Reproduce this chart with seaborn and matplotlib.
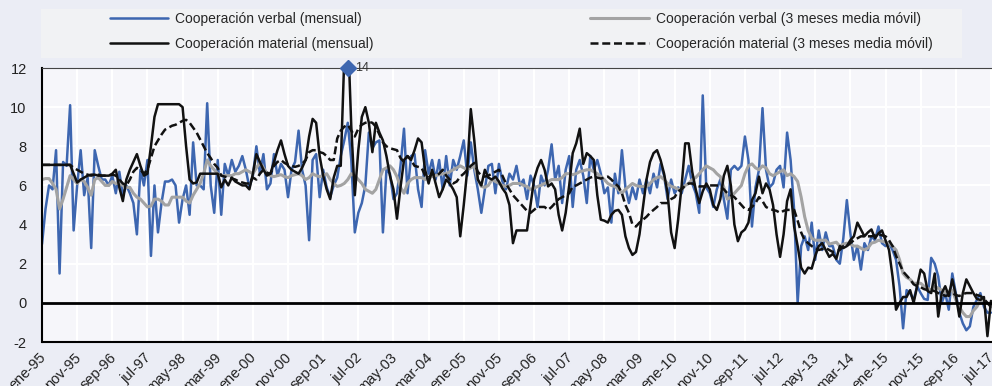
import numpy as np
import pandas as pd
import matplotlib.pyplot as plt
import seaborn as sns
from matplotlib.patches import Rectangle
from matplotlib.transforms import ScaledTranslation

# Datos mensuales, ene-1995 .. jul-2017
verbal = [
    3.0, 4.8, 6.0, 5.8, 7.8, 1.5, 7.2, 7.0, 10.1, 3.7, 6.0, 7.8,
    5.5, 6.4, 2.8, 7.8, 7.0, 6.3, 6.3, 6.0, 6.5, 5.6, 6.7, 5.5,
    6.0, 5.6, 5.1, 3.5, 6.8, 6.0, 7.3, 2.4, 6.0, 3.6, 5.1, 6.2,
    6.2, 6.3, 6.0, 4.1, 5.3, 6.0, 4.5, 8.2, 6.0, 6.0, 5.8, 10.2,
    6.0, 4.6, 7.3, 4.5, 7.1, 6.5, 7.3, 6.7, 7.0, 7.5, 6.8, 5.9,
    6.5, 8.0, 6.6, 7.6, 5.8, 6.1, 7.6, 6.5, 7.1, 6.8, 5.4, 6.8,
    7.2, 8.8, 6.8, 6.0, 3.2, 7.3, 7.6, 5.4, 6.8, 5.9, 5.4, 6.0,
    6.4, 7.5, 8.3, 9.2, 7.3, 3.6, 4.6, 5.1, 6.0, 8.7, 7.9, 8.2,
    8.3, 3.6, 6.8, 6.6, 5.3, 5.6, 7.0, 8.9, 5.6, 7.5, 7.6, 5.8,
    4.9, 7.8, 6.6, 7.3, 6.3, 7.3, 5.8, 7.5, 6.0, 7.3, 6.8, 7.5,
    8.3, 6.5, 8.2, 6.8, 5.8, 4.6, 5.8, 7.0, 7.1, 5.6, 7.1, 6.2,
    5.8, 6.6, 6.3, 7.0, 6.0, 6.3, 5.3, 6.5, 6.0, 4.9, 6.5, 6.0,
    6.8, 8.1, 6.3, 7.0, 5.1, 6.8, 7.5, 4.9, 6.8, 7.3, 6.5, 5.1,
    7.5, 6.8, 7.3, 6.6, 5.6, 5.9, 4.1, 6.6, 5.6, 7.8, 5.9, 5.1,
    5.9, 5.3, 6.3, 5.6, 6.3, 5.6, 6.6, 5.9, 7.1, 6.5, 5.3, 6.3,
    5.6, 5.9, 5.6, 6.3, 7.0, 6.1, 5.6, 4.6, 10.6, 5.9, 5.6, 4.9,
    5.8, 6.3, 5.3, 4.3, 6.8, 7.0, 6.8, 7.0, 8.5, 7.3, 3.9, 5.9,
    6.8, 9.95, 6.8, 5.9, 6.1, 6.8, 7.0, 5.9, 8.7, 7.3, 4.75, 0.0,
    2.9, 3.4, 2.7, 4.1, 2.2, 3.7, 2.7, 3.6, 2.9, 2.9, 2.2, 2.0,
    3.3, 5.25, 3.55, 2.2, 2.9, 1.7, 3.05, 2.7, 3.4, 3.2, 3.9, 3.05,
    2.9, 3.05, 2.7, 2.2, 0.85, -1.3, 0.65, 0.5, 0.15, 0.85, 0.5, 0.2,
    0.15, 2.3, 2.0, 1.35, 0.0, 0.5, -0.35, 1.5, 0.5, -0.5, -1.05, -1.4,
    -1.2, -0.2, 0.15, 0.5, -0.2, -0.5, -0.5,
]

verbal_mm3 = [
    6.3, 6.35, 6.35, 6.1, 5.8, 4.8, 5.3, 5.9, 6.5, 6.3, 6.1, 6.3,
    6.2, 5.9, 5.5, 6.3, 6.4, 6.2, 6.0, 6.0, 6.2, 6.1, 6.1, 6.0,
    5.9, 5.9, 5.6, 5.4, 5.3, 5.1, 4.9, 4.95, 5.3, 5.3, 5.2, 5.0,
    5.0, 5.4, 5.4, 5.4, 5.4, 5.2, 5.1, 5.5, 5.8, 6.1, 6.6, 7.3,
    7.0, 6.8, 6.6, 6.5, 6.5, 6.5, 6.5, 6.6, 6.6, 6.7, 6.8, 6.7,
    6.6, 6.9, 7.15, 6.9, 6.6, 6.5, 6.45, 6.5, 6.55, 6.45, 6.4, 6.5,
    6.55, 6.6, 6.5, 6.3, 6.4, 6.6, 6.5, 6.45, 6.5, 6.6, 6.3, 6.1,
    5.95, 6.0, 6.1, 6.3, 6.6, 6.5, 6.3, 6.1, 5.8, 5.7, 5.6, 5.8,
    6.3, 6.8, 6.9, 7.0, 6.8, 6.45, 5.9, 5.6, 6.1, 6.3, 6.4, 6.4,
    6.4, 6.3, 6.4, 6.45, 6.5, 6.55, 6.6, 6.6, 6.7, 6.8, 6.9, 7.0,
    6.9, 6.8, 6.9, 7.0, 6.3, 5.95, 5.9, 6.0, 6.3, 6.2, 6.1, 6.0,
    5.95, 6.0, 6.1, 6.1, 6.1, 6.0, 5.95, 5.8, 5.85, 5.95, 6.0, 6.1,
    6.2, 6.3, 6.3, 6.3, 6.4, 6.6, 6.6, 6.55, 6.6, 6.7, 6.75, 6.8,
    6.8, 6.7, 6.6, 6.45, 6.3, 6.1, 6.0, 5.95, 5.8, 5.6, 5.8, 5.95,
    6.1, 6.0, 5.95, 5.95, 5.95, 6.1, 6.3, 6.4, 6.45, 6.3, 6.1, 5.95,
    5.9, 5.8, 5.8, 6.0, 6.1, 6.3, 6.4, 6.6, 6.8, 7.0, 6.9, 6.8,
    6.6, 6.45, 5.9, 5.3, 5.4, 5.6, 5.8, 6.0, 6.6, 7.0, 7.1, 6.9,
    6.8, 7.0, 6.9, 6.6, 6.5, 6.6, 6.7, 6.8, 6.5, 6.6, 6.45, 6.2,
    5.4, 4.4, 3.7, 3.3, 3.2, 3.2, 3.2, 3.2, 3.0, 3.05, 3.1, 2.9,
    3.0, 3.05, 3.0, 2.9, 2.9, 2.8, 2.7, 2.8, 3.05, 3.1, 3.2, 3.15,
    3.1, 3.05, 2.9, 2.7, 2.2, 1.5, 1.3, 1.2, 1.0, 1.0, 1.0, 0.85,
    0.75, 0.65, 0.85, 0.75, 0.65, 0.5, 0.6, 0.65, 0.15, -0.2, -0.5, -0.7,
    -0.7, -0.4, -0.2, 0.15, 0.1, 0.0, -0.2,
]

material = [
    7.05, 7.05, 7.05, 7.05, 7.05, 7.05, 7.05, 7.05, 7.05, 6.6, 6.15, 6.3,
    6.4, 6.5, 6.55, 6.55, 6.5, 6.5, 6.5, 6.5, 6.6, 6.8, 5.9, 5.2,
    6.3, 6.8, 7.2, 7.6, 7.0, 6.5, 6.6, 8.0, 9.5, 10.15, 10.15, 10.15,
    10.15, 10.15, 10.15, 10.15, 10.0, 8.0, 6.3, 6.1, 6.15, 6.6, 6.6, 6.6,
    6.6, 6.6, 6.6, 5.9, 6.3, 6.0, 6.4, 6.2, 6.1, 6.0, 6.0, 5.8,
    6.6, 7.6, 7.2, 6.8, 6.5, 6.6, 7.2, 7.8, 8.3, 7.6, 7.0, 6.8,
    6.7, 6.6, 6.9, 7.3, 8.5, 9.4, 9.2, 7.5, 6.5, 5.8, 5.3, 6.4,
    7.0, 7.0, 12.5, 14.0, 9.0, 5.5, 7.8, 9.5, 10.0, 9.2, 7.7, 9.2,
    8.7, 8.3, 7.5, 6.5, 5.8, 4.3, 5.9, 7.3, 7.5, 7.3, 7.8, 8.4,
    8.2, 6.8, 6.1, 6.8, 6.1, 5.4, 5.8, 6.3, 6.1, 5.8, 5.4, 3.4,
    5.0, 6.8, 9.9, 8.3, 6.3, 6.0, 6.8, 6.4, 6.3, 6.45, 6.2, 5.85,
    5.6, 5.0, 3.05, 3.7, 3.7, 3.7, 3.7, 5.0, 6.3, 6.9, 7.3, 6.8,
    5.95, 6.1, 5.8, 4.5, 3.7, 4.6, 6.0, 7.65, 8.15, 8.9, 7.1, 7.65,
    7.5, 7.3, 5.5, 4.25, 4.2, 4.1, 4.5, 4.7, 4.75, 4.5, 3.4, 2.8,
    2.45, 2.6, 3.5, 4.9, 6.3, 7.2, 7.65, 7.8, 7.3, 6.6, 5.6, 3.6,
    2.8, 4.25, 6.0, 8.15, 8.15, 6.7, 5.8, 5.1, 5.7, 6.1, 5.8, 5.0,
    4.75, 5.3, 6.5, 7.0, 6.0, 4.0, 3.15, 3.6, 3.75, 4.1, 5.25, 5.6,
    6.45, 5.6, 6.1, 5.8, 5.0, 3.5, 2.35, 3.5, 5.2, 5.8, 3.9, 2.9,
    1.8, 1.5, 1.8, 1.75, 2.4, 2.9, 3.05, 2.7, 2.35, 2.5, 2.25, 2.9,
    2.8, 2.9, 3.2, 3.4, 4.1, 3.75, 3.4, 3.6, 3.75, 3.3, 3.55, 3.7,
    3.2, 2.7, 1.35, -0.35, 0.0, 0.3, 0.3, 0.65, 0.0, 0.85, 1.7, 1.5,
    0.6, 0.5, 1.5, -0.7, 0.5, 0.85, 0.35, 1.2, 0.4, -0.7, 0.5, 1.2,
    0.85, 0.5, 0.2, 0.15, 0.3, -1.7, 0.1,
]

material_mm3 = [
    7.05, 7.05, 7.05, 7.05, 7.05, 7.05, 7.05, 7.05, 7.05, 6.9, 6.8, 6.7,
    6.6, 6.55, 6.5, 6.55, 6.55, 6.5, 6.5, 6.5, 6.55, 6.5, 6.3, 6.1,
    6.0, 6.3, 6.7, 6.9, 6.8, 6.6, 6.8, 7.4, 8.0, 8.3, 8.6, 8.85,
    8.95, 9.05, 9.1, 9.2, 9.3, 9.35, 9.2, 8.95, 8.7, 8.35, 8.0, 7.65,
    7.4, 7.1, 6.9, 6.5, 6.45, 6.4, 6.35, 6.3, 6.2, 6.15, 6.1, 6.1,
    6.4, 6.3, 6.6, 6.8, 6.65, 6.6, 7.0, 7.2, 7.3, 7.15, 7.05, 7.0,
    6.95, 7.0, 7.1, 7.3, 7.7, 7.8, 7.8, 7.7, 7.65, 7.5, 7.3, 7.3,
    8.4, 8.8, 9.0, 9.1, 8.8, 8.5, 8.9, 9.1, 9.2, 9.25, 9.2, 9.0,
    8.6, 8.2, 8.0, 7.9, 7.85, 7.8, 7.4, 7.2, 7.5, 7.3, 7.0, 6.95,
    6.9, 6.5, 6.4, 6.6, 6.5, 6.6, 6.8, 6.5, 6.3, 6.1, 6.2, 6.45,
    6.6, 6.8, 7.0, 7.15, 6.7, 6.5, 6.45, 6.5, 6.6, 6.7, 6.8, 6.5,
    6.1, 5.8, 5.5, 5.3, 5.1, 4.9, 4.7, 4.6, 4.75, 4.9, 4.9, 4.9,
    4.75, 4.9, 5.1, 5.3, 5.4, 5.5, 5.6, 5.95, 6.0, 6.1, 6.2, 6.3,
    6.4, 6.45, 6.4, 6.35, 6.4, 6.45, 6.3, 6.1, 5.95, 5.6, 5.0, 4.6,
    4.0, 3.9, 4.1, 4.25, 4.4, 4.6, 4.75, 4.9, 5.1, 5.1, 5.1, 5.3,
    5.4, 5.7, 5.8, 6.0, 6.1, 6.1, 6.0, 5.95, 5.95, 5.95, 6.0, 6.0,
    6.0, 5.95, 5.8, 5.6, 5.5, 5.4, 5.2, 5.0, 4.8, 4.75, 4.9, 5.1,
    5.4, 5.2, 4.9, 4.8, 4.75, 4.7, 4.6, 4.7, 4.75, 4.75, 4.75, 4.2,
    3.6, 3.2, 3.05, 2.9, 2.8, 2.7, 2.75, 2.8, 2.7, 2.6, 2.65, 2.7,
    2.9, 2.9, 3.05, 3.2, 3.3, 3.4, 3.4, 3.4, 3.4, 3.45, 3.5, 3.45,
    3.4, 3.2, 2.9, 2.4, 2.0, 1.6, 1.4, 1.2, 0.95, 0.85, 0.8, 0.7,
    0.65, 0.65, 0.6, 0.5, 0.45, 0.35, 0.4, 0.5, 0.4, 0.35, 0.45, 0.5,
    0.5, 0.5, 0.4, 0.35, 0.2, 0.0, -0.2,
]

tick_labels = ['ene-95', 'nov-95', 'sep-96', 'jul-97', 'may-98', 'mar-99', 'ene-00',
               'nov-00', 'sep-01', 'jul-02', 'may-03', 'mar-04', 'ene-05', 'nov-05',
               'sep-06', 'jul-07', 'may-08', 'mar-09', 'ene-10', 'nov-10', 'sep-11',
               'jul-12', 'may-13', 'mar-14', 'ene-15', 'nov-15', 'sep-16', 'jul-17']

etiquetas = ['Cooperación verbal (mensual)', 'Cooperación verbal (3 meses media móvil)',
             'Cooperación material (mensual)', 'Cooperación material (3 meses media móvil)']

df = pd.DataFrame({'verbal': verbal, 'verbal_mm3': verbal_mm3,
                   'material': material, 'material_mm3': material_mm3})
df['mes'] = np.arange(len(df))

sns.set_style('white')
plt.rcParams['font.family'] = ['Liberation Sans', 'DejaVu Sans']
plt.rcParams['axes.unicode_minus'] = False

fig = plt.figure(figsize=(9.92, 3.86), dpi=100, facecolor='#ebedf5')
ax = fig.add_axes([42 / 992, 1 - 342 / 386, 1 - 42 / 992, (342 - 68) / 386])
ax.set_facecolor('#f6f6fa')

# fondo de la leyenda
fig.patches.append(Rectangle((41 / 992, 1 - 58 / 386), (962 - 41) / 992, 49 / 386,
                             transform=fig.transFigure, facecolor='#f1f2f4',
                             edgecolor='none', zorder=0))

azul = '#3d66b0'
sns.lineplot(data=df, x='mes', y='verbal', color=azul, lw=1.8, label=etiquetas[0], ax=ax)
sns.lineplot(data=df, x='mes', y='verbal_mm3', color='#a3a3a3', lw=2.2, label=etiquetas[1], ax=ax)
sns.lineplot(data=df, x='mes', y='material', color='#111111', lw=1.8, label=etiquetas[2], ax=ax)
sns.lineplot(data=df, x='mes', y='material_mm3', color='#111111', lw=1.8,
             linestyle=(0, (3.2, 1.5)), label=etiquetas[3], ax=ax)

ax.set_xlim(0, 270.3)
ax.set_ylim(-2, 12)
ax.set_xlabel('')
ax.set_ylabel('')

# pico fuera de escala
i_max = int(df['material'].idxmax())
y_top = ax.get_ylim()[1]
ax.plot(df['mes'][i_max], y_top, marker='D', ms=8, color=azul, clip_on=False, zorder=6)
ax.annotate(f"{df['material'][i_max]:.0f}", xy=(df['mes'][i_max], y_top), xytext=(5.5, 0),
            textcoords='offset points', va='center', fontsize=9, color='#333333',
            annotation_clip=False)

ax.grid(True, color='white', lw=1.5)
ax.set_axisbelow(True)
ax.spines['right'].set_visible(False)
ax.spines['top'].set_color('#444444')
ax.spines['top'].set_linewidth(0.8)
ax.spines['left'].set_color('black')
ax.spines['left'].set_linewidth(1.5)
ax.spines['bottom'].set_position(('data', 0))
ax.spines['bottom'].set_color('black')
ax.spines['bottom'].set_linewidth(2)
ax.axhline(-2, color='black', lw=1.5, clip_on=False, zorder=5)

ax.tick_params(axis='x', direction='in', length=5, width=1.2, color='black',
               pad=34, labelsize=10.5, labelcolor='#222222')
ax.tick_params(axis='y', length=0, pad=11, labelsize=10.5, labelcolor='#222222')

ax.set_yticks(range(-2, 13, 2))
ax.set_xticks(df['mes'][::10])
ax.set_xticklabels(tick_labels)
off = ScaledTranslation(-2.5 / 72, 0, fig.dpi_scale_trans)
for lab in ax.get_xticklabels():
    lab.set_rotation(45)
    lab.set_ha('right')
    lab.set_va('top')
    lab.set_rotation_mode('anchor')
    lab.set_transform(lab.get_transform() + off)

h, l = ax.get_legend_handles_labels()
ax.get_legend().remove()
orden = [0, 2, 1, 3]
fig.legend([h[i] for i in orden], [l[i] for i in orden], loc='upper left',
           bbox_to_anchor=(110 / 992, 1 - 12 / 386), ncol=2, frameon=False,
           borderpad=0, borderaxespad=0, handlelength=4.2, handletextpad=0.5,
           columnspacing=15.6, labelspacing=0.8, fontsize=10)

fig.savefig('out.png', dpi=100, facecolor=fig.get_facecolor())
